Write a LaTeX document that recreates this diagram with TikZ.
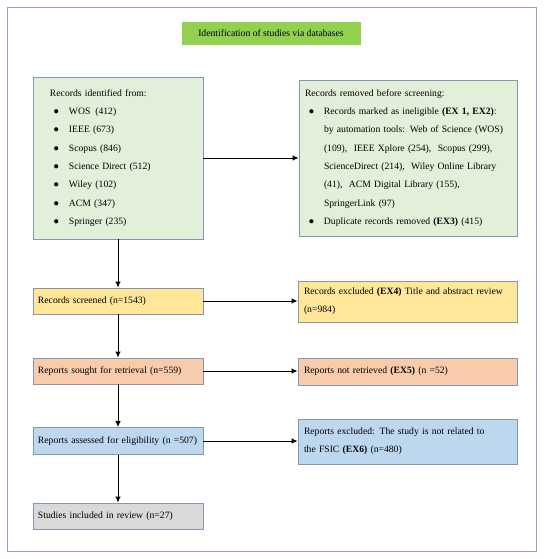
\documentclass[tikz,border=0pt]{standalone}
\usepackage{fontspec}
\setmainfont{Liberation Serif}
\usepackage{xcolor}
\usetikzlibrary{arrows.meta}

\definecolor{titlegreen}{HTML}{92D050}
\definecolor{idgreen}{HTML}{E2F0D9}
\definecolor{scryellow}{HTML}{FFE699}
\definecolor{retsalmon}{HTML}{F8CBAD}
\definecolor{elgblue}{HTML}{BDD7EE}
\definecolor{incgray}{HTML}{D9D9D9}
\definecolor{boxedge}{HTML}{8497B0}
\definecolor{frameedge}{HTML}{8FA3C4}

\newcommand{\bitem}{\hspace*{3.5bp}\makebox[15.5bp][l]{●}}
\newcommand{\bcont}{\hspace*{19bp}}

\begin{document}
\begin{tikzpicture}[x=1bp, y=-1bp,
  every node/.style={font=\fontsize{9.7}{18.4}\selectfont},
  box/.style={draw=boxedge, line width=0.8pt, inner xsep=6bp, inner ysep=1bp, align=left},
  leftbox/.style={box, inner xsep=5bp, text width=160bp},
  arr/.style={-{Latex[length=6bp,width=5.5bp]}, line width=1pt, black}]
  \useasboundingbox (0,0) rectangle (550,559);
  \draw[frameedge, line width=0.8pt] (7,7) rectangle (536,551);
  \node[fill=titlegreen, align=center, minimum width=179bp, minimum height=23bp, inner sep=0pt] (title) at (271,33.5) {Identification of studies via databases};
  \node[box, fill=idgreen, inner xsep=17bp, text width=136bp, minimum height=162bp] (ident) at (118,158)
    {Records identified from:\\
     \bitem WOS\enspace(412)\\
     \bitem IEEE (673)\\
     \bitem Scopus (846)\\
     \bitem Science Direct (512)\\
     \bitem Wiley (102)\\
     \bitem ACM (347)\\
     \bitem Springer (235)};
  \node[box, fill=idgreen, text width=206bp, minimum height=156bp] (removed) at (408,158)
    {Records removed before screening:\\
     \bitem Records marked as ineligible \textbf{(EX 1, EX2)}:\\
     \bcont by automation tools: Web of Science (WOS)\\
     \bcont (109),\ \ IEEE Xplore (254),\ \ Scopus (299),\\
     \bcont ScienceDirect (214),\ \ Wiley Online Library\\
     \bcont (41),\ \ ACM Digital Library (155),\\
     \bcont SpringerLink (97)\\
     \bitem Duplicate records removed \textbf{(EX3)} (415)};
  \node[leftbox, fill=scryellow, minimum height=26bp] (screened) at (118,301) {Records screened (n=1543)};
  \node[box, fill=scryellow, text width=207bp, minimum height=41bp] (excl4) at (407.5,301.5)
    {Records excluded \textbf{(EX4)} Title and abstract review\\(n=984)};
  \node[leftbox, fill=retsalmon, minimum height=26bp] (sought) at (118,371) {Reports sought for retrieval (n=559)};
  \node[box, fill=retsalmon, text width=207bp, minimum height=27bp] (notret) at (407.5,371.5) {Reports not retrieved \textbf{(EX5)} (n =52)};
  \node[leftbox, fill=elgblue, minimum height=27bp] (assessed) at (118,441) {\mbox{Reports assessed for eligibility (n =507)}};
  \node[box, fill=elgblue, text width=207bp, minimum height=45bp] (excl6) at (407.5,441.5)
    {Reports excluded: The study is not related to\\the FSIC \textbf{(EX6)} (n=480)};
  \node[leftbox, fill=incgray, minimum height=26bp] (included) at (118,516) {Studies included in review (n=27)};
  \foreach \a/\b in {ident/screened, screened/sought, sought/assessed, assessed/included}
    \draw[arr] (\a) -- (\b);
  \foreach \a/\b in {ident/removed, screened/excl4, sought/notret, assessed/excl6}
    \draw[arr] (\a.east) -- (\a.east -| \b.west);
\end{tikzpicture}
\end{document}
